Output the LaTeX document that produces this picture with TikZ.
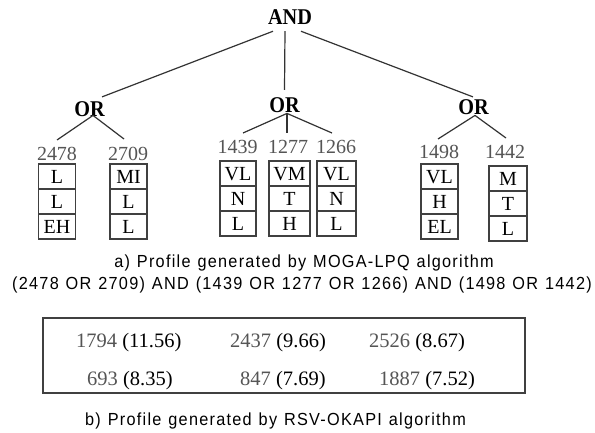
\documentclass[tikz,border=0pt]{standalone}
\usepackage{fontspec}
\setmainfont{Liberation Serif}
\newfontfamily\capfont[LetterSpace=7.2,FakeStretch=0.93,WordSpace=1.2]{Liberation Sans}
\newfontfamily\opfont[FakeStretch=0.9]{Liberation Serif Bold}
\definecolor{numgray}{HTML}{555555}
\definecolor{linegray}{HTML}{333333}
\definecolor{boxgray}{HTML}{404040}
\begin{document}
\begin{tikzpicture}[x=1pt,y=-1pt,
  op/.style={font=\opfont\fontsize{22.5}{26}\selectfont, inner sep=0pt, anchor=base},
  lbl/.style={font=\fontsize{20}{24}\selectfont, text=numgray, inner sep=0pt, anchor=north},
  cell/.style={draw=boxgray, line width=1.1pt, rectangle, minimum height=25pt, inner sep=0pt, outer sep=0pt, anchor=north, font=\fontsize{20}{24}\selectfont, text height=13.5pt, text depth=0pt},
  link/.style={draw=linegray, line width=1.2pt},
  captxt/.style={font=\capfont\fontsize{17.5}{20}\selectfont, inner sep=0pt, anchor=base},
  tval/.style={font=\fontsize{20.5}{24}\selectfont, inner sep=0pt, anchor=base west}]
\useasboundingbox[fill=white] (0,0) rectangle (595,433);

% tree operators
\node[op] (and) at (290,25) {AND};
\node[op] (orl) at (89.5,117) {OR};
\node[op] (orm) at (284.5,113) {OR};
\node[op] (orr) at (473.5,115) {OR};

% labels
\node[lbl] (l2478) at (57,147) {2478};
\node[lbl] (l2709) at (128,147) {2709};
\node[lbl] (l1439) at (237.5,140) {1439};
\node[lbl] (l1277) at (288,140) {1277};
\node[lbl] (l1266) at (336,140) {1266};
\node[lbl] (l1498) at (439,145) {1498};
\node[lbl] (l1442) at (505,145) {1442};

% connectors
\draw[link] ([xshift=-17pt,yshift=-6pt]and.south) -- ([xshift=12.5pt,yshift=5pt]orl.north);
\draw[link] ([xshift=-5pt,yshift=-6pt]and.south) -- ([yshift=8pt]orm.north);
\draw[link] ([xshift=11pt,yshift=-6pt]and.south) -- ([xshift=-0.5pt,yshift=3pt]orr.north);

\draw[link] ([xshift=3.5pt,yshift=2pt]orl.south) -- ([yshift=7pt]l2478.north);
\draw[link] ([xshift=3.5pt,yshift=2pt]orl.south) -- ([xshift=-4pt,yshift=8pt]l2709.north);

\draw[link] ([xshift=2.5pt]orm.south) -- ([xshift=5.5pt,yshift=7pt]l1439.north);
\draw[link] ([xshift=2.5pt]orm.south) -- ([xshift=-1pt,yshift=7pt]l1277.north);
\draw[link] ([xshift=2.5pt]orm.south) -- ([xshift=-4pt,yshift=7pt]l1266.north);

\draw[link] ([xshift=1.5pt]orr.south) -- ([xshift=-1pt,yshift=6pt]l1498.north);
\draw[link] ([xshift=1.5pt]orr.south) -- ([xshift=1pt,yshift=7pt]l1442.north);

% boxes
\node[cell,minimum width=37pt] (b1r1) at (57,164) {L};
\node[cell,minimum width=37pt] (b1r2) at (b1r1.south) {L};
\node[cell,minimum width=37pt] (b1r3) at (b1r2.south) {EH};

\node[cell,minimum width=37pt] (b2r1) at (128.5,164) {MI};
\node[cell,minimum width=37pt] (b2r2) at (b2r1.south) {L};
\node[cell,minimum width=37pt] (b2r3) at (b2r2.south) {L};

\node[cell,minimum width=36pt] (b3r1) at (238,161) {VL};
\node[cell,minimum width=36pt] (b3r2) at (b3r1.south) {N};
\node[cell,minimum width=36pt] (b3r3) at (b3r2.south) {L};

\node[cell,minimum width=41pt] (b4r1) at (289.5,161) {VM};
\node[cell,minimum width=41pt] (b4r2) at (b4r1.south) {T};
\node[cell,minimum width=41pt] (b4r3) at (b4r2.south) {H};

\node[cell,minimum width=39pt] (b5r1) at (336.5,161) {VL};
\node[cell,minimum width=39pt] (b5r2) at (b5r1.south) {N};
\node[cell,minimum width=39pt] (b5r3) at (b5r2.south) {L};

\node[cell,minimum width=37pt] (b6r1) at (439.5,164) {VL};
\node[cell,minimum width=37pt] (b6r2) at (b6r1.south) {H};
\node[cell,minimum width=37pt] (b6r3) at (b6r2.south) {EL};

\node[cell,minimum width=38pt] (b7r1) at (508,166) {M};
\node[cell,minimum width=38pt] (b7r2) at (b7r1.south) {T};
\node[cell,minimum width=38pt] (b7r3) at (b7r2.south) {L};

% caption a
\node[captxt] (capa) at (304,268) {a) Profile generated by MOGA-LPQ algorithm};
\node[captxt] (capa2) at (302,289) {(2478 OR 2709) AND (1439 OR 1277 OR 1266) AND (1498 OR 1442)};

% table
\node[draw=boxgray, line width=1.1pt, minimum width=482pt, minimum height=75pt, inner sep=0pt] (tbl) at (284,355.5) {};
\node[tval] (t1) at (76,347) {\textcolor{numgray}{1794} (11.56)};
\node[tval] (t2) at (230,347) {\textcolor{numgray}{2437} (9.66)};
\node[tval] (t3) at (369,347) {\textcolor{numgray}{2526} (8.67)};
\node[tval] (t4) at (87,385) {\textcolor{numgray}{693} (8.35)};
\node[tval] (t5) at (240,385) {\textcolor{numgray}{847} (7.69)};
\node[tval] (t6) at (379,385) {\textcolor{numgray}{1887} (7.52)};

\node[captxt] (capb) at (275.5,425) {b) Profile generated by RSV-OKAPI algorithm};
\end{tikzpicture}
\end{document}
